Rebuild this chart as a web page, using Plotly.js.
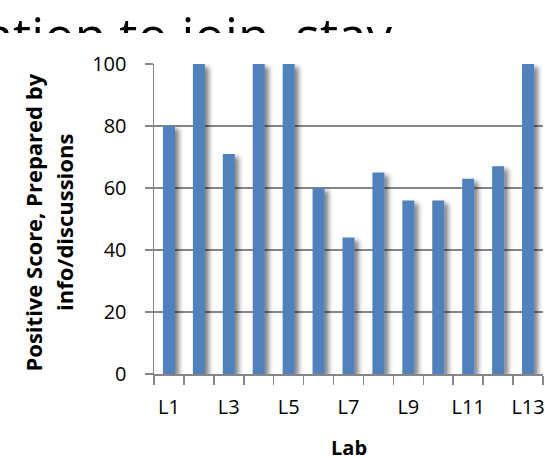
<!DOCTYPE html>
<html>
<head>
<meta charset="utf-8">
<script src="https://cdn.plot.ly/plotly-3.0.1.min.js"></script>
<style>
  html, body { margin: 0; padding: 0; background: #fff; }
  #chart { width: 545px; height: 458px; }
  /* soft drop shadow behind each bar */
  .barlayer .bars path { filter: url(#barShadow); }
</style>
</head>
<body>
<svg width="0" height="0" style="position:absolute">
  <defs>
    <filter id="barShadow" x="-50%" y="-10%" width="250%" height="130%">
      <feGaussianBlur in="SourceAlpha" stdDeviation="2.5"/>
      <feOffset dx="4" dy="3" result="blurred"/>
      <feComponentTransfer><feFuncA type="linear" slope="0.5"/></feComponentTransfer>
      <feMerge><feMergeNode/><feMergeNode in="SourceGraphic"/></feMerge>
    </filter>
  </defs>
</svg>
<div id="chart"></div>
<script>
// Labs and their positive scores
const labs = ['L1', 'L2', 'L3', 'L4', 'L5', 'L6', 'L7', 'L8', 'L9', 'L10', 'L11', 'L12', 'L13'];
const scores = [80, 100, 71, 100, 100, 60, 44, 65, 56, 56, 63, 67, 100];
// only every other lab is labelled on the axis
const tickLabels = ['L1', '', 'L3', '', 'L5', '', 'L7', '', 'L9', '', 'L11', '', 'L13'];
const headline = 'ation to join, stay';
const yTitle = ['Positive Score, Prepared by', 'info/discussions'];
const xTitle = 'Lab';

const grey = '#868686';
const font = 'Open Sans, Liberation Sans, sans-serif';

// figure geometry in pixels; the plotting area spans the full width so the
// headline strip can reach the left edge, and the bar axes get a domain
const W = 545, H = 458;
const M = { l: 0, r: 2, t: 0, b: 84 };
const plotW = W - M.l - M.r;
const plotH = H - M.t - M.b;
const px2x = px => (px - M.l) / plotW;          // page x -> paper x
const px2y = py => (plotH - (py - M.t)) / plotH; // page y -> paper y

const bars = {
  type: 'bar',
  x: labs,
  y: scores,
  marker: { color: '#4F81BD', line: { width: 0 } },
  hoverinfo: 'x+y'
};

// large headline, clipped to a thin strip along the top edge
const heading = {
  type: 'scatter',
  mode: 'text',
  x: [392],
  y: [42],
  text: [headline],
  textposition: 'middle left',
  textfont: { family: font, size: 51, color: '#000' },
  xaxis: 'x2',
  yaxis: 'y2',
  cliponaxis: true,
  hoverinfo: 'skip',
  showlegend: false
};

const layout = {
  width: W,
  height: H,
  margin: M,
  paper_bgcolor: '#fff',
  plot_bgcolor: 'rgba(0,0,0,0)',
  showlegend: false,
  bargap: 0.6,
  font: { family: font, color: '#000' },
  xaxis: {
    domain: [px2x(154), 1],
    type: 'category',
    tickmode: 'array',
    tickvals: labs,
    ticktext: tickLabels,
    tickson: 'boundaries',
    tickangle: 0,
    ticks: 'outside',
    ticklen: 9,
    tickwidth: 1.5,
    tickcolor: grey,
    showline: true,
    linecolor: grey,
    linewidth: 1.5,
    showgrid: false,
    tickfont: { family: font, size: 20, color: '#000' },
    ticklabelstandoff: 14
  },
  yaxis: {
    domain: [0, px2y(64)],
    range: [0, 100],
    dtick: 20,
    ticks: 'outside',
    ticklen: 8,
    tickwidth: 1.5,
    tickcolor: grey,
    showline: true,
    linecolor: grey,
    linewidth: 1.5,
    showgrid: true,
    gridcolor: grey,
    gridwidth: 1.5,
    zeroline: false,
    tickfont: { family: font, size: 20, color: '#000' },
    ticklabelstandoff: 14
  },
  // helper axes measured in page pixels, used only for the headline strip
  xaxis2: { domain: [0, 1], range: [M.l, W - M.r], visible: false, anchor: 'y2', fixedrange: true },
  yaxis2: { domain: [px2y(33), 1], range: [33, 0], visible: false, anchor: 'x2', fixedrange: true },
  annotations: [
    {
      text: '<b>' + yTitle[0] + '</b>', textangle: -90, showarrow: false,
      xref: 'paper', yref: 'paper', x: px2x(32), y: px2y(222.5),
      xanchor: 'center', yanchor: 'middle',
      font: { family: font, size: 22, color: '#000' }
    },
    {
      text: '<b>' + yTitle[1] + '</b>', textangle: -90, showarrow: false,
      xref: 'paper', yref: 'paper', x: px2x(64), y: px2y(223),
      xanchor: 'center', yanchor: 'middle',
      font: { family: font, size: 22, color: '#000' }
    },
    {
      text: '<b>' + xTitle + '</b>', showarrow: false,
      xref: 'paper', yref: 'paper', x: px2x(348.5), y: px2y(447.5),
      xanchor: 'center', yanchor: 'middle',
      font: { family: font, size: 20, color: '#000' }
    }
  ]
};

Plotly.newPlot('chart', [bars, heading], layout, { displayModeBar: false, staticPlot: true });
</script>
</body>
</html>
